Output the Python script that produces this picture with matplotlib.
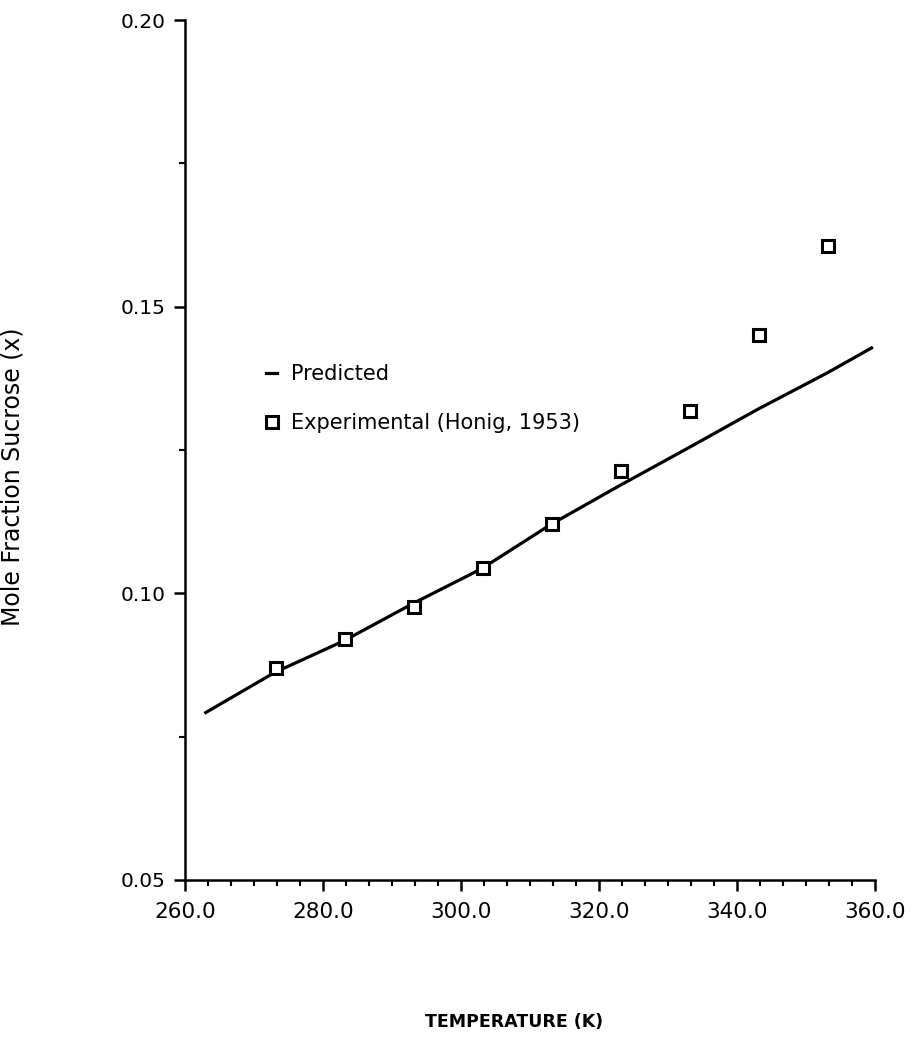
import numpy as np
import matplotlib.pyplot as plt
from matplotlib.ticker import MultipleLocator, AutoMinorLocator, FormatStrFormatter

# predicted curve
pred_T = [263.0, 273.0, 283.0, 293.0, 303.0, 313.0, 323.0, 333.0, 343.0, 353.0, 359.5]
pred_x = [0.0792, 0.0862, 0.0917, 0.0982, 0.1043, 0.1120, 0.1188, 0.1254, 0.1321, 0.1384, 0.1428]

# experimental points (Honig, 1953)
exp_T = [273.15, 283.15, 293.15, 303.15, 313.15, 323.15, 333.15, 343.15, 353.15]
exp_x = [0.0870, 0.0920, 0.0976, 0.1044, 0.1121, 0.1213, 0.1318, 0.1451, 0.1606]

plt.rcParams['font.family'] = ['DejaVu Sans']

fig = plt.figure(figsize=(9.14, 10.44), dpi=100)
ax = fig.add_axes([0.2024, 0.1571, 0.7549, 0.8237])

ax.plot(pred_T, pred_x, color='black', linewidth=2.3, label='Predicted')
ax.plot(exp_T, exp_x, linestyle='none', marker='s', markersize=8,
        markerfacecolor='white', markeredgecolor='black', markeredgewidth=2.2,
        label='Experimental (Honig, 1953)')

ax.set_xlim(260, 360)
ax.set_ylim(0.05, 0.20)
ax.xaxis.set_major_locator(MultipleLocator(20))
ax.xaxis.set_minor_locator(AutoMinorLocator(6))
ax.yaxis.set_major_locator(MultipleLocator(0.05))
ax.yaxis.set_minor_locator(AutoMinorLocator(2))
ax.xaxis.set_major_formatter(FormatStrFormatter('%.1f'))
ax.yaxis.set_major_formatter(FormatStrFormatter('%.2f'))

for side in ['top', 'right']:
    ax.spines[side].set_visible(False)
for side in ['left', 'bottom']:
    ax.spines[side].set_linewidth(1.8)

ax.tick_params(axis='x', which='major', direction='out', length=8, width=1.8,
               labelsize=15.5, pad=8)
ax.tick_params(axis='x', which='minor', direction='out', length=4, width=1.5)
ax.tick_params(axis='y', which='major', direction='out', length=8, width=1.8,
               labelsize=14.5, pad=6)
ax.tick_params(axis='y', which='minor', direction='out', length=4, width=1.5)

ax.set_xlabel('TEMPERATURE (K)', fontsize=12.5, fontweight='bold')
ax.xaxis.set_label_coords(0.477, -0.155)
ax.set_ylabel('Mole Fraction Sucrose (x)', fontsize=17)
ax.yaxis.set_label_coords(-0.232, 0.469)

ax.legend(loc='upper left', bbox_to_anchor=(0.118, 0.600), frameon=False,
          fontsize=15, handlelength=0.5, handletextpad=0.7, labelspacing=1.4,
          borderpad=0, borderaxespad=0)

fig.savefig('out.png', dpi=100)
